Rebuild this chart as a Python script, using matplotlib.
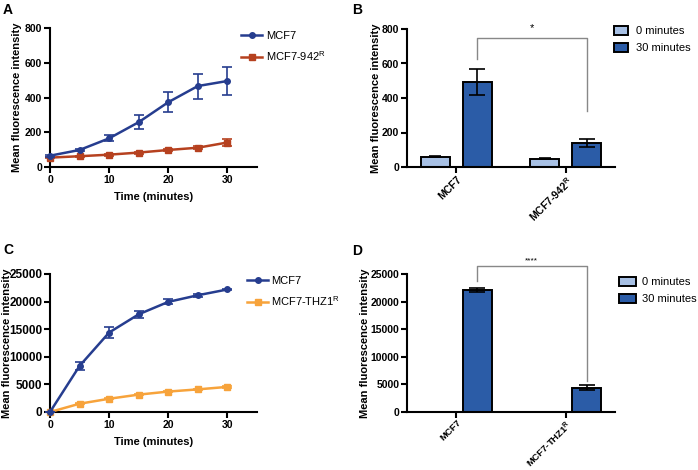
import numpy as np
import matplotlib.pyplot as plt

plt.rcParams['font.family'] = ['Liberation Sans', 'DejaVu Sans']
plt.rcParams['mathtext.fontset'] = 'custom'
plt.rcParams['mathtext.rm'] = 'Liberation Sans'
plt.rcParams['mathtext.bf'] = 'Liberation Sans:bold'

# time course data (A, C)
time = [0, 5, 10, 15, 20, 25, 30]
mcf7_a = [65, 98, 165, 258, 373, 466, 495]
mcf7_a_err = [5, 8, 18, 40, 58, 72, 78]
r942 = [54, 62, 71, 83, 98, 111, 141]
r942_err = [3, 4, 5, 6, 7, 8, 18]

mcf7_c = [0, 8350, 14400, 17700, 19950, 21150, 22200]
mcf7_c_err = [0, 700, 950, 650, 450, 250, 150]
thz1 = [0, 1500, 2400, 3150, 3700, 4100, 4550]
thz1_err = [0, 100, 120, 120, 120, 120, 150]

# bar data (B, D)
groups_b = ['MCF7', 'MCF7-942$^{\\mathbf{R}}$']
b_0min = [60, 48]
b_0min_err = [4, 3]
b_30min = [493, 138]
b_30min_err = [78, 22]

groups_d = ['MCF7', 'MCF7-THZ1$^{\\mathbf{R}}$']
d_0min = [40, 40]
d_0min_err = [0, 0]
d_30min = [22100, 4420]
d_30min_err = [450, 400]

navy = '#263d8f'
rust = '#b6411f'
orange = '#f7a33b'
light = '#a7c0e4'
dark = '#2b5ca7'
FS = 8

W, H = 698, 470
fig = plt.figure(figsize=(W / 100, H / 100), dpi=100)


def px_axes(l, t, r, b):
    return fig.add_axes([l / W, 1 - b / H, (r - l) / W, (b - t) / H])


def px_legend(ax, x, y, **kw):
    ax.legend(loc='upper left', bbox_to_anchor=(x / W, 1 - y / H),
              bbox_transform=fig.transFigure, frameon=False, fontsize=FS,
              borderpad=0, borderaxespad=0, **kw)


def style(ax, label_x, ysize, xsize=7.5, xpad=1.5):
    for s in ['top', 'right']:
        ax.spines[s].set_visible(False)
    for s in ['left', 'bottom']:
        ax.spines[s].set_linewidth(1.5)
    ax.tick_params(width=1.5, length=4, pad=1.5)
    ax.tick_params(axis='x', labelsize=xsize, pad=xpad)
    ax.tick_params(axis='y', labelsize=ysize)
    for lab in ax.get_xticklabels() + ax.get_yticklabels():
        lab.set_fontweight('bold')
    ax.set_ylabel('Mean fluorescence intensity', fontsize=FS, fontweight='bold')
    ax.yaxis.label.set_va('center')
    # label centre given in figure pixels
    l = ax.get_position().x0 * W
    w = ax.get_position().width * W
    ax.yaxis.set_label_coords((label_x - l) / w, 0.5)


def line_panel(ax, ys, errs, names, colors, ymax, ystep, label_x, ysize):
    for i, (y, e, n, c, m) in enumerate(zip(ys, errs, names, colors, ['o', 's'])):
        ax.errorbar(time, y, yerr=e, color=c, marker=m, markersize=4, lw=1.8,
                    capsize=3.5, elinewidth=1.2, capthick=1.2, clip_on=False,
                    zorder=4 - i)
        ax.plot([], [], color=c, marker=m, markersize=4, lw=1.8, label=n)
    ax.set_xlim(0, 35)
    ax.set_ylim(0, ymax)
    ax.set_xticks([0, 10, 20, 30])
    ax.set_yticks(np.arange(0, ymax + 1, ystep))
    ax.set_xlabel('Time (minutes)', fontsize=FS, fontweight='bold', labelpad=5)
    style(ax, label_x, ysize)


def bar_panel(ax, groups, v0, e0, v30, e30, ymax, ystep, label_x, ysize,
              xsize, xpad):
    x = np.arange(len(groups))
    w = 0.265
    ax.bar(x - 0.19, v0, w, color=light, edgecolor='black', lw=1.4,
           label='0 minutes', zorder=2)
    ax.bar(x + 0.19, v30, w, color=dark, edgecolor='black', lw=1.4,
           label='30 minutes', zorder=2)
    ax.errorbar(x - 0.19, v0, yerr=[np.zeros(len(e0)), e0], fmt='none',
                ecolor='black', capsize=4, elinewidth=1.2, capthick=1.2)
    ax.errorbar(x + 0.19, v30, yerr=e30, fmt='none', ecolor='black',
                capsize=5.5, elinewidth=1.2, capthick=1.2, zorder=3)
    ax.set_xlim(-0.45, 1.45)
    ax.set_ylim(0, ymax)
    ax.set_yticks(np.arange(0, ymax + 1, ystep))
    ax.set_xticks(x)
    ax.set_xticklabels(groups, rotation=45, ha='right', rotation_mode='anchor')
    style(ax, label_x, ysize, xsize, xpad)
    return x


# A
axA = px_axes(50, 28, 257, 167)
line_panel(axA, [mcf7_a, r942], [mcf7_a_err, r942_err],
           ['MCF7', 'MCF7-942$^{\\mathregular{R}}$'], [navy, rust], 800, 200, 17, 7.5)
px_legend(axA, 241, 31, handlelength=1.9, handletextpad=0.35, labelspacing=0.75)

# B
axB = px_axes(407, 29, 615, 167)
xb = bar_panel(axB, groups_b, b_0min, b_0min_err, b_30min, b_30min_err,
               800, 200, 376, 7.5, 7.5, 1.5)
axB.plot([xb[0] + 0.19, xb[0] + 0.19, xb[1] + 0.19, xb[1] + 0.19],
         [625, 748, 748, 325], color='#888888', lw=1, clip_on=False)
axB.text((xb[0] + xb[1]) / 2 + 0.19, 775, '*', ha='center', va='bottom', fontsize=8)
px_legend(axB, 614, 26, handlelength=1.3, handleheight=0.9, handletextpad=0.7,
          labelspacing=0.55)

# C
axC = px_axes(50, 274, 257, 412)
line_panel(axC, [mcf7_c, thz1], [mcf7_c_err, thz1_err],
           ['MCF7', 'MCF7-THZ1$^{\\mathregular{R}}$'], [navy, orange],
           25000, 5000, 7, 8.5)
px_legend(axC, 247, 276, handlelength=1.9, handletextpad=0.25, labelspacing=0.75)

# D
axD = px_axes(407, 274, 615, 412)
xd = bar_panel(axD, groups_d, d_0min, d_0min_err, d_30min, d_30min_err,
               25000, 5000, 365, 7.5, 6.8, 0.5)
axD.plot([xd[0] + 0.19, xd[0] + 0.19, xd[1] + 0.19, xd[1] + 0.19],
         [23700, 26450, 26450, 5700], color='#888888', lw=1, clip_on=False)
axD.text((xd[0] + xd[1]) / 2 + 0.19, 26700, '****', ha='center', va='bottom', fontsize=6)
px_legend(axD, 619, 277, handlelength=1.5, handleheight=0.9, handletextpad=0.55,
          labelspacing=0.55)

for lab, x, y in [('A', 3, 3), ('B', 352, 3), ('C', 3, 243), ('D', 352, 244)]:
    fig.text(x / W, 1 - y / H, lab, fontsize=10, fontweight='bold', va='top')

fig.savefig('out.png', dpi=100)
